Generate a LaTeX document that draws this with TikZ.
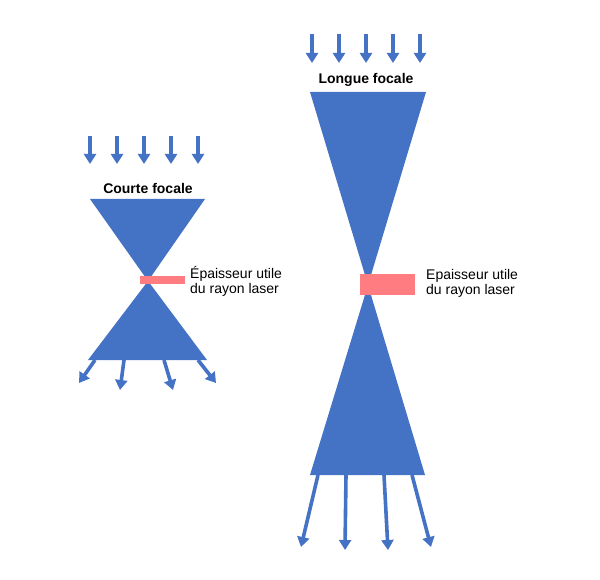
\documentclass[tikz,border=0pt]{standalone}
\usepackage{fontspec}
\setmainfont{Liberation Sans}
\begin{document}
\begin{tikzpicture}[x=1pt,y=-1pt,
  arr/.style={draw=bl, line width=3.6pt, -{Triangle[length=10pt,width=12pt]}},
  lbl/.style={font=\fontsize{14}{15}\selectfont, align=left, anchor=west, inner sep=0pt},
  ttl/.style={font=\bfseries\fontsize{14}{15}\selectfont, inner sep=0pt}]
\usetikzlibrary{arrows.meta}
\definecolor{bl}{HTML}{4472C4}
\definecolor{rd}{HTML}{FF7C80}
\useasboundingbox (0,0) rectangle (600,580);
% left
\foreach \x [count=\i] in {90,117,144,171,198} {\coordinate (la\i) at (\x,136); \coordinate (lb\i) at (\x,164); \draw[arr] (la\i) -- (lb\i);}
\node[ttl] (lt) at (148,188) {Courte focale};
\fill[bl] (90,199) -- (205,199) -- (148,281) -- cycle;
\fill[bl] (148,281) -- (207,360) -- (88,360) -- cycle;
\fill[rd] (140,276) rectangle (185,284);
\node[lbl] (ll) at (190,281) {Épaisseur utile\\du rayon laser};
\foreach \a/\b/\c/\d [count=\i] in {95/360/79/383, 124/360/120/390, 164/360/173/390, 198/360/216/383} {\coordinate (lc\i) at (\a,\b); \coordinate (ld\i) at (\c,\d); \draw[arr] (lc\i) -- (ld\i);}
% right
\foreach \x [count=\i] in {312,339,366,393,420} {\coordinate (ra\i) at (\x,34); \coordinate (rb\i) at (\x,63); \draw[arr] (ra\i) -- (rb\i);}
\node[ttl] (rt) at (366,80) {Longue focale};
\fill[bl] (310,92) -- (426,92) -- (368,285) -- cycle;
\fill[bl] (368,285) -- (425,475) -- (310,475) -- cycle;
\fill[rd] (360,274) rectangle (415,295);
\node[lbl] (rl) at (426,283) {Epaisseur utile\\du rayon laser};
\foreach \a/\b/\c/\d [count=\i] in {318/475/301/547, 346/475/345/550, 384/475/388/550, 412/475/431/547} {\coordinate (rc\i) at (\a,\b); \coordinate (rd\i) at (\c,\d); \draw[arr] (rc\i) -- (rd\i);}
\end{tikzpicture}
\end{document}
